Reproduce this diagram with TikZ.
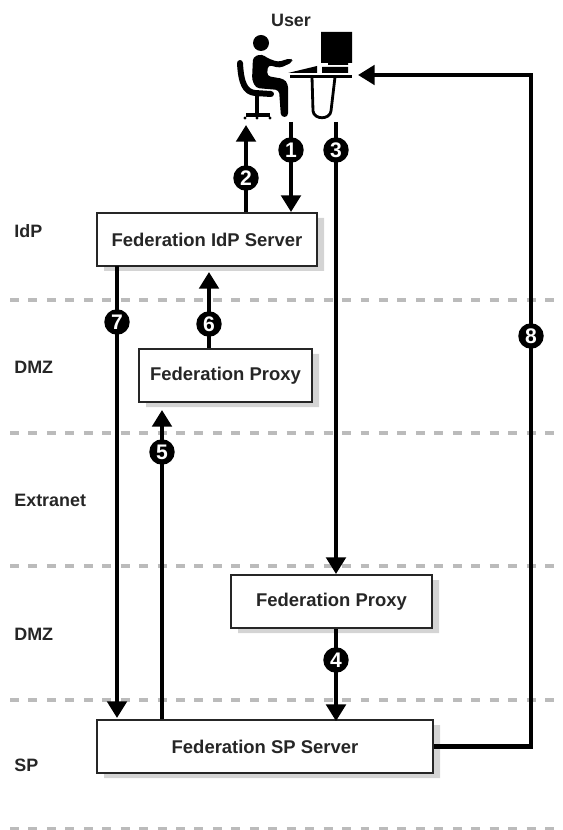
\documentclass[tikz,border=0pt]{standalone}
\usepackage{fontspec}
\setmainfont{Liberation Sans}
\usetikzlibrary{arrows.meta}
\definecolor{zoneline}{HTML}{BBBBBB}
\definecolor{shadowgray}{HTML}{D4D4D4}
\tikzset{
  zone/.style={draw=zoneline, line width=2.2pt, dash pattern=on 5.1pt off 5.4pt},
  zonetext/.style={anchor=west, inner sep=0pt, font=\bfseries\fontsize{10.2pt}{12pt}\selectfont, text=black!85},
  server/.style={draw=black!85, line width=1.1pt, fill=white, inner sep=0pt, font=\bfseries\fontsize{10.5pt}{12pt}\selectfont, text=black!85},
  flow/.style={line width=2.3pt, -{Triangle[width=11pt,length=9.5pt]}},
  num/.style={circle, fill=black, text=white, inner sep=0pt, minimum size=14.5pt, font=\bfseries\fontsize{12pt}{12pt}\selectfont},
}
\begin{document}
\begin{tikzpicture}[x=0.02cm, y=-0.02cm]
  \useasboundingbox (0,0) rectangle (563,830);
  % zones
  \foreach \yy in {300,433,566,700,829}
    \draw[zone] (10,\yy) -- (563,\yy);
  \path (14,231) node[zonetext] (idplabel){IdP} (14,367) node[zonetext] (dmzone){DMZ}
    (14,500) node[zonetext] (extranet){Extranet} (14,634) node[zonetext] (dmztwo){DMZ}
    (14,765) node[zonetext] (splabel){SP};
  % shadows
  \fill[shadowgray] (104,218) rectangle (324,271) (146,354) rectangle (319,407)
    (238,580) rectangle (439,633) (104,725) rectangle (440,778);
  % servers
  \path (207,239.5) node[server, minimum width=220*0.02cm, minimum height=53*0.02cm] (idp){Federation IdP Server}
    (225.5,375.5) node[server, minimum width=173*0.02cm, minimum height=53*0.02cm] (proxya){Federation Proxy}
    (331.5,601.5) node[server, minimum width=201*0.02cm, minimum height=53*0.02cm] (proxyb){Federation Proxy}
    (265,746.5) node[server, minimum width=336*0.02cm, minimum height=53*0.02cm] (sp){Federation SP Server};
  \node[inner sep=0pt, font=\bfseries\fontsize{10.2pt}{12pt}\selectfont, text=black!85] (user) at (291,20) {User};
  % the user at the desk
  \fill (261,43) circle (8);
  \fill[rounded corners=2pt] (253,57) -- (262,54) -- (267,58) -- (278,62) -- (291,58) -- (293,62)
    -- (280,68) -- (268,65) -- (267,76) -- (284,79) -- (288,84) -- (288,117) -- (281,117)
    -- (279,90) -- (256,88) -- (252,80) -- cycle;
  \draw[line width=3.4pt, line cap=round] (240,63) .. controls (241,83) and (245,92) .. (255,93) -- (271,94);
  \draw[line width=1.8pt] (257,94) -- (257,114) (246,115) -- (270,115);
  \foreach \xx in {245,257,270}
    \fill (\xx,118) circle (1.7);
  \fill (321,32) rectangle (352,63) (328,63) rectangle (348,65) (322,67) rectangle (348,73);
  \fill (288,73) -- (317,66) -- (317,73) -- cycle;
  \draw[line width=1.6pt] (290,76.5) -- (352,76.5);
  \draw[line width=1.6pt] (312,77) -- (313,111) .. controls (314,120) and (330,120) .. (331,111) -- (335,77);
  % ends of the connectors
  \coordinate (userfoot) at (291,122);
  \coordinate (userchair) at (246,125);
  \coordinate (userdesk) at (336,122);
  \coordinate (usermonitor) at (358,75);
  \coordinate (idpbelow) at (209,272);
  \coordinate (proxybelow) at (162,410);
  \coordinate (corner) at (531,75);
  % connectors
  \draw[flow] (userfoot) -- (userfoot |- idp.north);
  \draw[flow] (userchair |- idp.north) -- (userchair);
  \draw[flow] (userdesk) -- (userdesk |- proxyb.north);
  \draw[flow] (userdesk |- proxyb.south) -- ([yshift=-1.2pt]userdesk |- sp.north);
  \draw[flow] (proxybelow |- sp.north) -- (proxybelow);
  \draw[flow] (idpbelow |- proxya.north) -- (idpbelow);
  \draw[flow] (117,266) -- (117,718);
  \draw[flow] (sp.east) -- (sp.east -| corner) -- (corner) -- (usermonitor);
  % numbers
  \path (291,150) node[num] (one){1} (246,178) node[num] (two){2} (336,150) node[num] (three){3}
    (336,660) node[num] (four){4} (162,452) node[num] (five){5} (209,324) node[num] (six){6}
    (117,322) node[num] (seven){7} (531,336) node[num] (eight){8};
\end{tikzpicture}
\end{document}
